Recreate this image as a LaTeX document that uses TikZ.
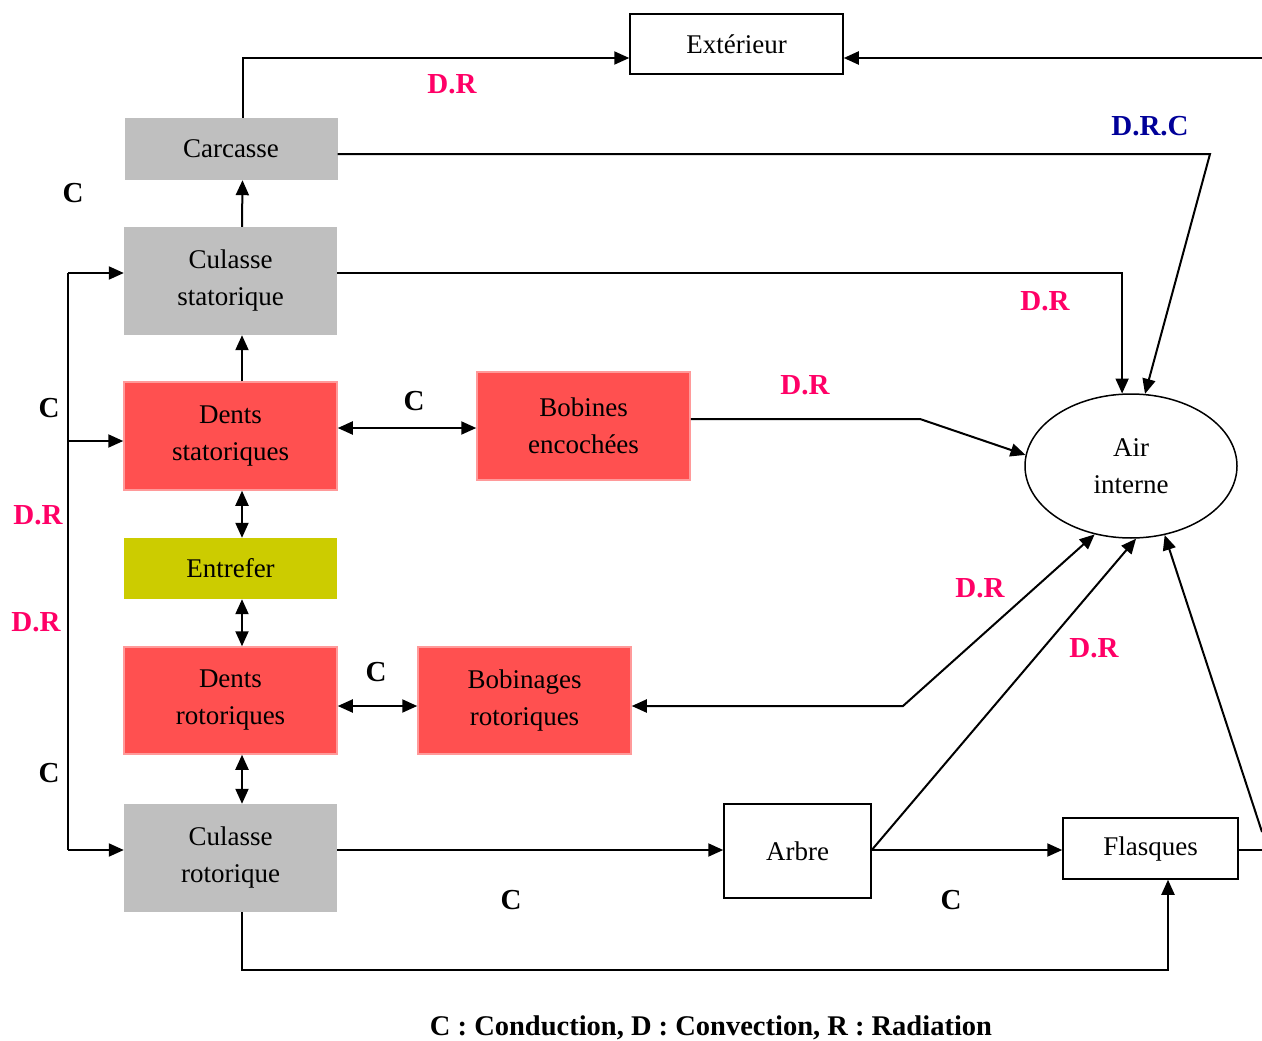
\documentclass[tikz,border=0pt]{standalone}
\usepackage{fontspec}
\setmainfont{Liberation Serif}
\usetikzlibrary{arrows.meta,shapes.geometric,calc}
\definecolor{grayb}{HTML}{BFBFBF}
\definecolor{redb}{HTML}{FF5050}
\definecolor{redl}{HTML}{FF9A9A}
\definecolor{yelb}{HTML}{CCCC00}
\definecolor{pinkl}{HTML}{FF0066}
\definecolor{bluel}{HTML}{000099}
\begin{document}
\begin{tikzpicture}[x=1pt,y=-1pt,
  box/.style={minimum width=213pt, align=center, inner sep=0pt, font=\fontsize{27}{37}\selectfont},
  gbox/.style={box, fill=grayb},
  rbox/.style={box, fill=redb, draw=redl, line width=1.5pt},
  wbox/.style={box, draw=black, line width=1.5pt},
  lab/.style={font=\fontsize{29}{30}\selectfont\bfseries, inner sep=0pt},
  tip/.style={-{Triangle[length=15pt,width=13pt]}},
  ln/.style={line width=2pt},
  arr/.style={ln, tip},
  darr/.style={ln, {Triangle[length=15pt,width=13pt]}-{Triangle[length=15pt,width=13pt]}}
]
\useasboundingbox (0,0) rectangle (1262,1041);

% nodes
\node[wbox, minimum width=213pt, minimum height=60pt] (ext) at (736.5,44) {Extérieur};
\node[gbox, minimum height=62pt] (car) at (231,149) {Carcasse};
\node[gbox, minimum height=108pt] (cs) at (230.5,281) {Culasse\\statorique};
\node[rbox, minimum height=108pt] (ds) at (230.5,436) {Dents\\statoriques};
\node[rbox, minimum height=108pt] (bob) at (583.5,426) {Bobines\\encochées};
\node[box, fill=yelb, minimum height=61pt] (ent) at (230.5,568.5) {Entrefer};
\node[rbox, minimum height=107pt] (dr) at (230.5,700.5) {Dents\\rotoriques};
\node[rbox, minimum height=107pt] (bobr) at (524.5,700.5) {Bobinages\\rotoriques};
\node[gbox, minimum height=108pt] (cr) at (230.5,858) {Culasse\\rotorique};
\node[wbox, minimum width=147pt, minimum height=94pt] (arbre) at (797.5,851) {Arbre};
\node[wbox, minimum width=175pt, minimum height=61pt] (fl) at (1150.5,848.5) {Flasques};
\node[draw, ellipse, line width=1.5pt, minimum width=212pt, minimum height=144pt, align=center, inner sep=0pt, font=\fontsize{27}{37}\selectfont] (air) at (1131,466) {Air\\interne};

% coordinates
\coordinate (re1) at (1262,58);
\coordinate (k1) at (1210,154);
\coordinate (k2) at (920,419);
\coordinate (k3) at (903,706);
\coordinate (re2) at (1262,850);
\coordinate (re3) at (1262,832);
\coordinate (bl) at (242,970);
\coordinate (bus1) at (68,273);
\coordinate (bus2) at (68,441);
\coordinate (bus3) at (68,850);

% connectors
\draw[arr] ([xshift=11.5pt]car.north) |- ([yshift=-14pt]ext.west);
\draw[arr] (re1) -- ([yshift=-14pt]ext.east);
\draw[arr] ([yshift=-5pt]car.east) -- (k1) -- (air.79);
\draw[arr] ([xshift=11.5pt]cs.north) -- ([xshift=11.5pt]car.south);
\draw[arr] ([yshift=8pt]cs.east) -| (air.97);
\draw[arr] ([xshift=11.5pt]ds.north) -- ([xshift=11.5pt]cs.south);
\draw[darr] ([yshift=8pt]ds.east) -- ([yshift=8pt]ds.east -| bob.west);
\draw[arr] ([yshift=7pt]bob.east) -- (k2) -- (air.174);
\draw[darr] ([xshift=11.5pt]ds.south) -- ([xshift=11.5pt]ent.north);
\draw[darr] ([xshift=11.5pt]ent.south) -- ([xshift=11.5pt]dr.north);
\draw[darr] ([yshift=-5.5pt]dr.east) -- ([yshift=-5.5pt]dr.east -| bobr.west);
\draw[darr] (air.242) -- (k3) -- ([yshift=-5.5pt]bobr.east);
\draw[darr] ([xshift=11.5pt]dr.south) -- ([xshift=11.5pt]cr.north);
\draw[ln] (bus1) -- (bus3);
\draw[arr] (bus1) -- (bus1 -| cs.west);
\draw[arr] (bus2) -- (bus2 -| ds.west);
\draw[arr] (bus3) -- (bus3 -| cr.west);
\draw[arr] ([yshift=8pt]cr.east) -- ([yshift=8pt]cr.east -| arbre.west);
\draw[arr] ([yshift=1pt]arbre.east) -- ([yshift=1pt]arbre.east -| fl.west);
\draw[arr] ([yshift=1pt]arbre.east) -- (air.274);
\draw[ln] ([yshift=-1.5pt]fl.east) -- (re2);
\draw[arr] (re3) -- (air.296);
\draw[arr] ([xshift=11.5pt]cr.south) -- (bl) -| ([xshift=17.5pt]fl.south);

% labels
\node[lab, text=pinkl] (l1) at (452,84) {D.R};
\node[lab, text=bluel] (l2) at (1150,126) {D.R.C};
\node[lab] (l3) at (73,193) {C};
\node[lab, text=pinkl] (l4) at (1045,301) {D.R};
\node[lab, text=pinkl] (l5) at (805,385) {D.R};
\node[lab] (l6) at (414,401) {C};
\node[lab] (l7) at (49,408) {C};
\node[lab, text=pinkl] (l8) at (38,515) {D.R};
\node[lab, text=pinkl] (l9) at (36,622) {D.R};
\node[lab, text=pinkl] (l10) at (980,588) {D.R};
\node[lab, text=pinkl] (l11) at (1094,648) {D.R};
\node[lab] (l12) at (376,672) {C};
\node[lab] (l13) at (49,773) {C};
\node[lab] (l14) at (511,900) {C};
\node[lab] (l15) at (951,900) {C};
\node[lab, font=\fontsize{28.5}{30}\selectfont\bfseries] (leg) at (711,1028) {C : Conduction, D : Convection, R : Radiation};
\end{tikzpicture}
\end{document}
